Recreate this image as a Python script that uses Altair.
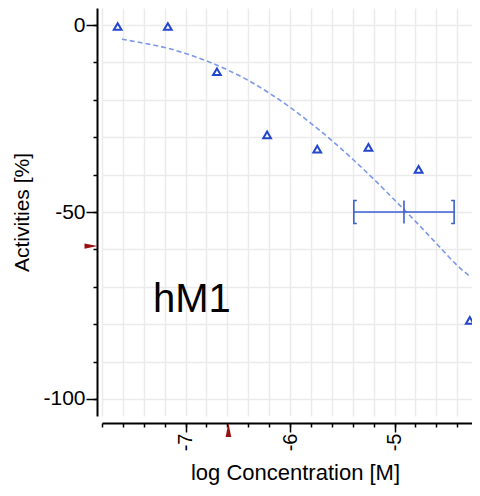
import altair as alt
import pandas as pd

# measured points (log concentration [M], activity [%])
conc = [-7.65, -7.17, -6.70, -6.22, -5.74, -5.25, -4.77, -4.28]
activity = [-0.4, -0.4, -12.5, -29.4, -33.2, -32.7, -38.6, -79.0]

# fitted curve
fit_x = [-7.61, -7.41, -7.20, -7.00, -6.80, -6.60, -6.40, -6.20, -6.00,
         -5.80, -5.60, -5.40, -5.20, -5.00, -4.80, -4.60, -4.40, -4.28]
fit_y = [-3.8, -4.8, -6.0, -7.6, -9.6, -12.0, -14.8, -18.2, -22.0,
         -26.3, -30.9, -35.9, -41.2, -46.8, -52.5, -58.4, -64.3, -67.2]

# IC50 with its interval
ic50_x = [-4.91]
ic50_y = [-50]
ic50_lo = [-5.39]
ic50_hi = [-4.43]

# red indicators on the axes
marker_y = [-59.1]
marker_x = [-6.59]

x_major = [-7, -6, -5]
x_minor = [round(-7.8 + 0.2 * i, 1) for i in range(18)]
y_major = [0, -50, -100]
y_minor = [-100, -90, -80, -70, -60, -50, -40, -30, -20, -10, 0]

label_text = ["hM1"]

FONT = "Liberation Sans"
PLOT_W = 370
X_DOM = [-7.8, -4.259]
Y_DOM = [-104.55, 4.55]

xs = alt.Scale(domain=X_DOM, nice=False, zero=False)
ys = alt.Scale(domain=Y_DOM, nice=False, zero=False)

pts = pd.DataFrame({"x": conc, "y": activity})
fit = pd.DataFrame({"x": fit_x, "y": fit_y})
ic = pd.DataFrame({"x": ic50_x, "y": ic50_y, "lo": ic50_lo, "hi": ic50_hi})

# layer 1: grid + dashed fit curve
grid_x_axis = alt.Axis(values=x_minor, grid=True, gridColor="#ebebeb", gridWidth=1.5,
                       ticks=False, labels=False, domain=False, title=None)
grid_y_axis = alt.Axis(values=y_minor, grid=True, gridColor="#ebebeb", gridWidth=1.5,
                       ticks=False, labels=False, domain=False, title=None)
curve = alt.Chart(fit).mark_line(
    color="#7d9ae8", strokeDash=[5, 3], strokeWidth=1.6, interpolate="monotone"
).encode(
    x=alt.X("x:Q", scale=xs, axis=grid_x_axis),
    y=alt.Y("y:Q", scale=ys, axis=grid_y_axis),
)

# layer 2: points + minor ticks
minor_x_axis = alt.Axis(values=x_minor, grid=False, ticks=True, tickSize=4, tickWidth=1.5,
                        tickColor="black", labels=False, domain=True, domainColor="black",
                        domainWidth=2, offset=7, title=None, orient="bottom")
minor_y_axis = alt.Axis(values=y_minor, grid=False, ticks=True, tickSize=4, tickWidth=1.5,
                        tickColor="black", labels=False, domain=True, domainColor="black",
                        domainWidth=2, offset=5, title=None, orient="left")
points = alt.Chart(pts).mark_point(
    shape="triangle-up", filled=False, color="#2346d0", size=60, strokeWidth=2, opacity=1
).encode(
    x=alt.X("x:Q", scale=xs, axis=minor_x_axis),
    y=alt.Y("y:Q", scale=ys, axis=minor_y_axis),
)

# layer 3: IC50 bar + major axes
major_x_axis = alt.Axis(values=x_major, grid=False, tickSize=9, tickWidth=1.5, tickColor="black",
                        domain=False, offset=7, labelAngle=270, labelFont=FONT,
                        labelFontSize=20, labelColor="black", labelPadding=1,
                        labelExpr="toString(datum.value)",
                        title="log Concentration [M]", titleFont=FONT, titleFontSize=22,
                        titleFontWeight="normal", titleColor="black", titlePadding=12,
                        titleX=193, titleAlign="center",
                        orient="bottom")
major_y_axis = alt.Axis(values=y_major, grid=False, tickSize=11, tickWidth=1.5, tickColor="black",
                        domain=False, offset=5, labelFont=FONT, labelFontSize=21,
                        labelColor="black", labelPadding=1,
                        labelExpr="toString(datum.value)",
                        title="Activities [%]", titleFont=FONT, titleFontSize=21,
                        titleFontWeight="normal", titleColor="black", titlePadding=10,
                        orient="left")
ic_line = alt.Chart(ic).mark_rule(color="#3d5fd0", strokeWidth=1.6).encode(
    x=alt.X("lo:Q", scale=xs, axis=major_x_axis),
    x2="hi:Q",
    y=alt.Y("y:Q", scale=ys, axis=major_y_axis),
)

BR_SIZE = 23 * 23
left_br = alt.Chart(ic).mark_point(
    shape="M0.26,-1L0,-1L0,1L0.26,1", filled=False, color="#3d5fd0", size=BR_SIZE,
    strokeWidth=1.6, opacity=1
).encode(x=alt.X("lo:Q", scale=xs, axis=None), y=alt.Y("y:Q", scale=ys, axis=None))
right_br = alt.Chart(ic).mark_point(
    shape="M-0.26,-1L0,-1L0,1L-0.26,1", filled=False, color="#3d5fd0", size=BR_SIZE,
    strokeWidth=1.6, opacity=1
).encode(x=alt.X("hi:Q", scale=xs, axis=None), y=alt.Y("y:Q", scale=ys, axis=None))
mid_br = alt.Chart(ic).mark_point(
    shape="M0,-1L0,1", filled=False, color="#3d5fd0", size=BR_SIZE, strokeWidth=1.6, opacity=1
).encode(x=alt.X("x:Q", scale=xs, axis=None), y=alt.Y("y:Q", scale=ys, axis=None))

# red markers on axes
ym = alt.Chart(pd.DataFrame({"y": marker_y})).mark_point(
    shape="M-1,-0.4L1,0L-1,0.4Z", filled=True, color="#9a0f0f", size=169, opacity=1
).encode(x=alt.value(-11), y=alt.Y("y:Q", scale=ys, axis=None))
xm = alt.Chart(pd.DataFrame({"x": marker_x})).mark_point(
    shape="M0,-1L0.4,1L-0.4,1Z", filled=True, color="#9a0f0f", size=196, opacity=1
).encode(x=alt.X("x:Q", scale=xs, axis=None), y=alt.value(422))

label = alt.Chart(pd.DataFrame({"t": label_text})).mark_text(
    font=FONT, fontSize=40, align="left", baseline="alphabetic", color="black"
).encode(x=alt.value(51), y=alt.value(304), text="t:N")

chart = alt.layer(
    curve, points, ic_line, left_br, right_br, mid_br, ym, xm, label
).resolve_axis(
    x="independent", y="independent"
).properties(
    width=PLOT_W, height=408,
    padding={"left": 94, "top": 0, "right": 0, "bottom": 72},
    autosize=alt.AutoSizeParams(type="none"),
    background="white",
).configure_view(stroke=None)

chart.save("out.html", embed_options={"renderer": "svg", "actions": False})
